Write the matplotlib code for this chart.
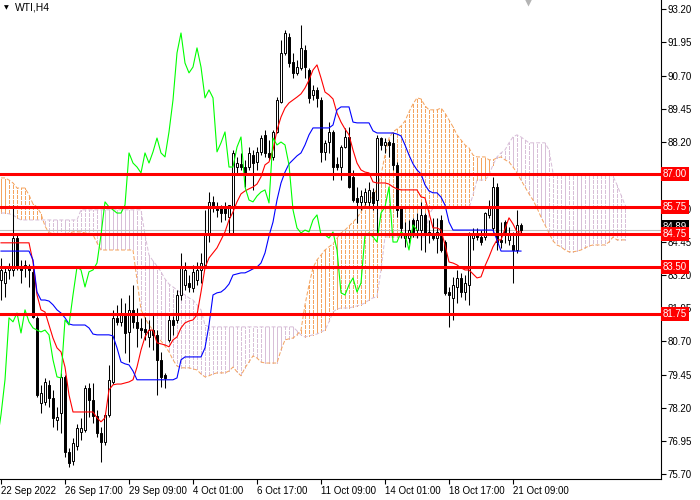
#!/usr/bin/env python3
"""WTI H4 candlesticks with Ichimoku lines, cloud and horizontal levels (MT4 look)."""
import numpy as np
import matplotlib
matplotlib.use("Agg")
import matplotlib.pyplot as plt
import matplotlib.transforms as mtransforms

SYMBOL = "WTI,H4"

# --- price bars (H4) ---
OPEN = [
    83.02, 82.90, 83.39, 83.39, 84.59, 83.50, 83.47, 83.54, 83.32, 81.59,
    78.39, 78.43, 79.07, 78.58, 77.75, 78.02, 79.37, 76.55, 76.21, 76.77,
    77.30, 77.38, 78.96, 78.50, 77.90, 77.26, 76.93, 77.94, 79.18, 81.59,
    81.44, 81.77, 81.06, 81.89, 81.44, 81.21, 81.17, 80.87, 81.13, 80.95,
    80.01, 79.44, 80.76, 81.51, 81.51, 82.45, 82.83, 82.90, 82.71, 83.02,
    83.39, 83.58, 84.78, 85.95, 85.76, 85.72, 85.72, 85.38, 85.76, 87.26,
    87.38, 87.26, 87.26, 87.71, 87.45, 87.83, 88.47, 87.79, 87.64, 88.58,
    89.71, 91.55, 92.15, 91.21, 90.80, 90.98, 91.66, 90.91, 89.97, 90.16,
    89.78, 87.83, 88.20, 88.58, 87.38, 87.26, 88.01, 88.39, 86.89, 86.10,
    85.95, 85.95, 85.95, 86.32, 86.02, 88.35, 88.09, 88.20, 88.17, 87.34,
    85.72, 84.59, 84.59, 85.27, 84.89, 84.89, 85.46, 84.82, 84.78, 84.59,
    85.27, 84.44, 82.56, 82.34, 82.75, 83.09, 82.56, 82.83, 84.59, 84.78,
    84.63, 84.63, 85.46, 84.97, 86.51, 84.52, 85.19, 84.52, 84.33, 84.14,
    85.08,
]
HIGH = [
    83.84, 83.54, 83.65, 85.83, 84.74, 83.77, 83.77, 83.62, 83.54, 81.66,
    79.07, 79.33, 79.26, 78.88, 78.24, 79.52, 79.44, 76.70, 77.08, 77.60,
    77.83, 79.07, 79.14, 79.14, 78.13, 77.49, 78.02, 79.82, 81.89, 82.08,
    82.34, 82.15, 82.45, 82.83, 81.96, 81.59, 81.62, 81.51, 81.77, 81.13,
    80.31, 79.52, 81.77, 81.66, 82.64, 84.03, 83.69, 83.20, 83.58, 83.69,
    84.03, 85.65, 86.32, 86.17, 85.95, 85.83, 85.95, 85.83, 87.90, 87.64,
    87.79, 87.53, 88.01, 87.90, 88.01, 88.47, 88.65, 88.28, 88.65, 89.89,
    92.04, 92.41, 92.30, 91.55, 91.28, 92.60, 91.85, 90.98, 90.34, 90.27,
    89.89, 88.28, 88.95, 88.65, 87.64, 88.09, 88.73, 88.77, 87.15, 86.51,
    86.40, 86.47, 86.70, 86.47, 88.47, 88.39, 88.35, 88.28, 88.54, 87.45,
    85.76, 85.19, 85.27, 85.35, 85.53, 85.95, 85.53, 85.27, 85.35, 85.35,
    85.46, 84.52, 82.75, 83.13, 83.39, 83.28, 83.20, 84.82, 84.97, 84.97,
    84.89, 85.57, 86.02, 86.89, 86.66, 85.19, 85.27, 85.01, 84.82, 85.65,
    85.16,
]
LOW = [
    82.26, 82.38, 83.05, 83.17, 83.39, 82.90, 83.13, 82.75, 81.59, 78.62,
    78.02, 78.32, 78.24, 77.49, 77.38, 77.26, 76.36, 75.99, 76.06, 76.62,
    77.00, 77.30, 77.87, 77.64, 77.11, 76.17, 76.81, 77.87, 79.10, 81.32,
    81.29, 80.27, 79.93, 81.21, 80.50, 80.83, 80.76, 80.50, 80.38, 78.69,
    79.00, 78.96, 80.68, 80.95, 81.40, 82.26, 82.64, 82.56, 82.56, 82.83,
    82.90, 83.47, 84.44, 85.57, 85.38, 85.19, 85.27, 84.78, 84.78, 87.04,
    87.15, 86.51, 87.15, 86.40, 87.15, 87.71, 87.64, 87.53, 87.53, 88.54,
    89.67, 91.47, 91.02, 90.61, 90.72, 90.91, 90.61, 89.67, 89.78, 89.52,
    87.45, 87.53, 87.79, 86.77, 87.15, 86.77, 87.98, 86.47, 85.95, 85.16,
    85.65, 85.83, 85.76, 85.65, 84.78, 87.90, 87.79, 87.64, 87.15, 85.38,
    84.59, 84.26, 84.41, 84.63, 84.59, 84.14, 84.07, 84.41, 84.52, 84.03,
    84.07, 82.45, 81.25, 81.51, 82.15, 82.38, 82.26, 82.08, 84.14, 84.52,
    84.33, 84.52, 85.35, 84.82, 84.14, 84.22, 84.41, 84.33, 82.90, 84.03,
    84.78,
]
CLOSE = [
    83.39, 83.32, 83.47, 84.59, 83.50, 83.39, 83.58, 83.39, 81.62, 78.69,
    78.77, 79.18, 78.58, 77.83, 77.87, 79.37, 76.55, 76.14, 76.89, 77.45,
    77.45, 78.96, 78.50, 77.90, 77.26, 76.93, 77.94, 79.26, 81.59, 81.44,
    81.77, 81.02, 81.89, 81.44, 81.21, 81.13, 81.06, 81.13, 80.95, 80.01,
    79.37, 79.33, 81.51, 81.32, 82.45, 83.50, 83.39, 82.75, 83.32, 83.39,
    83.65, 84.71, 85.95, 85.76, 85.65, 85.53, 85.53, 85.83, 87.79, 87.41,
    87.26, 87.04, 87.79, 87.41, 87.83, 88.35, 87.79, 87.64, 88.58, 89.78,
    91.55, 92.30, 91.17, 90.80, 91.02, 91.74, 91.02, 89.86, 90.16, 89.86,
    87.83, 88.17, 88.58, 87.26, 87.26, 88.01, 88.39, 86.51, 86.02, 85.95,
    86.17, 86.32, 86.40, 85.91, 88.35, 88.09, 88.20, 88.09, 87.34, 85.65,
    84.97, 84.78, 84.89, 84.82, 85.27, 85.46, 84.71, 84.71, 84.59, 84.82,
    84.14, 82.53, 82.45, 82.83, 83.09, 82.56, 82.90, 84.71, 84.78, 84.63,
    84.44, 85.53, 85.76, 86.51, 84.44, 84.44, 84.82, 84.71, 84.14, 85.08,
    84.89,
]

# --- Ichimoku lines ---
TENKAN = (
    [84.41] * 8
    + [83.69, 82.45, 81.89, 81.81, 81.32, 80.83, 80.46, 80.31, 79.74, 78.69]
    + [78.05] * 6
    + [77.83, 77.68, 77.83, 78.88, 79.07, 79.10, 79.10, 79.14, 79.18, 79.26,
       79.74, 80.38, 80.87, 81.13, 81.13, 80.65, 80.61, 80.57, 80.50, 80.76,
       80.87, 81.21, 81.40, 81.47, 81.51, 81.70, 82.56, 83.47, 83.84, 84.03,
       84.22, 84.52, 84.82, 85.27, 85.57, 85.95, 86.25, 86.36, 86.44, 86.51,
       86.62, 86.89, 87.34, 87.45, 87.90, 88.65, 89.14, 89.48, 89.67, 89.78,
       89.89, 90.01, 90.23, 90.53, 90.91, 91.10, 90.61, 90.08, 89.97, 89.82,
       89.29, 88.95, 88.69, 88.47, 87.90, 87.41, 87.15, 87.07, 87.04, 86.70,
       86.66, 86.66, 86.66, 86.62, 86.51, 86.44, 86.40, 86.40, 86.40, 86.40,
       86.40, 86.14, 86.10, 85.53, 84.97, 84.97, 84.89, 84.33, 83.69, 83.65,
       83.58, 83.47, 83.39, 83.39, 83.24, 83.09, 83.13, 83.54, 83.88, 84.26,
       84.52, 84.52, 84.93, 85.35, 85.12, 84.82, 84.82]
)
KIJUN = (
    [84.10] * 8
    + [83.77, 82.56, 82.26, 82.26, 82.22, 82.08, 81.89, 81.77, 81.59, 81.36]
    + [81.32] * 4 + [81.21, 80.98] + [80.95] * 4
    + [80.91, 80.46, 79.93, 79.86, 79.82, 79.59]
    + [79.26] * 10 + [79.33, 80.01] + [80.12] * 5
    + [80.46, 81.32, 82.45, 82.53, 82.56, 82.68, 82.86, 83.20, 83.24,
       83.28, 83.28, 83.35, 83.43, 83.50, 83.65, 84.03, 84.67, 85.19, 86.02,
       86.66, 87.07, 87.38, 87.53, 87.68, 87.79, 88.09, 88.47]
    + [88.73] * 5 + [88.84, 89.41, 89.52, 89.52, 89.52, 88.95]
    + [88.92] * 4 + [88.62] + [88.54] * 5
    + [88.50, 88.43, 88.09, 87.71, 87.38, 87.15, 87.00, 86.59, 86.36, 86.29,
       86.29, 86.13, 85.83, 85.19]
    + [84.89] * 11 + [84.52] + [84.10] * 6
)
SPAN_A = [
    86.85, 86.85, 86.77, 86.66, 86.47, 86.47, 86.47, 86.21, 85.87, 85.76,
    85.50, 85.04, 84.78, 84.78, 84.74, 84.71, 84.74, 84.78, 84.82, 84.82,
    84.82, 84.78, 84.78, 84.71, 84.41, 84.14, 84.14, 84.14, 84.14, 84.14,
    84.14, 84.14, 84.14, 84.14, 83.02, 81.89, 81.59, 81.32, 81.13, 80.91,
    80.72, 80.53, 80.31, 80.01, 79.78, 79.71, 79.71, 79.71, 79.67, 79.63,
    79.48, 79.37, 79.41, 79.48, 79.52, 79.52, 79.52, 79.59, 79.74, 79.56,
    79.41, 79.71, 79.93, 80.16, 80.08, 79.93, 79.89, 79.89, 79.89, 79.89,
    80.38, 80.76, 80.80, 80.83, 80.95, 81.13, 82.08, 82.83, 83.47, 83.77,
    83.95, 84.14, 84.26, 84.37, 84.59, 84.78, 84.89, 85.04, 85.19, 85.35,
    85.57, 85.83, 85.95, 86.17, 86.44, 86.96, 87.71, 88.35, 88.58, 88.69,
    88.80, 88.99, 89.33, 89.63, 89.86, 89.82, 89.56, 89.41, 89.41, 89.41,
    89.48, 89.29, 89.03, 88.77, 88.47, 88.28, 88.09, 87.98, 87.71, 87.64,
    87.64, 87.64, 87.53, 87.53, 87.60, 87.64, 87.53, 87.45, 87.26, 87.04,
    86.77, 86.51, 86.25, 86.02, 85.72, 85.38, 85.08, 84.78, 84.48, 84.33,
    84.26, 84.14, 84.07, 84.07, 84.10, 84.14, 84.22, 84.29, 84.33, 84.33,
    84.33, 84.33, 84.44, 84.63, 84.52, 84.52, 84.52,
]
SPAN_B = (
    [85.53, 85.53, 85.50, 85.46, 85.35] + [85.27] * 15 + [85.65] * 16
    + [84.71, 83.95, 83.73, 83.54, 83.32, 83.05, 82.86, 82.75, 82.64, 82.53,
       82.45, 82.34, 82.26, 82.08, 81.89, 81.32]
    + [81.25] * 22
    + [81.10, 80.95, 80.87, 80.91, 80.95, 80.98, 81.06, 81.13, 81.44, 81.81,
       81.92, 81.96, 81.96, 81.96, 82.00, 82.04, 82.08, 82.15, 82.26, 82.34,
       82.38, 83.39]
    + [84.63] * 11 + [85.46] + [85.72] * 10
    + [86.21, 86.77, 86.77, 86.77, 86.96, 87.34, 87.64, 87.79, 87.90, 88.17,
       88.39, 88.47, 88.39, 88.28]
    + [88.17] * 5 + [87.90, 87.04] + [86.96] * 14
    + [86.92, 86.59, 86.21, 85.83]
)
CHIKOU_SHIFT = 26

LEVELS = [87.00, 85.75, 84.75, 83.50, 81.75]

DATE_TICKS = [0, 16, 32, 48, 64, 80, 96, 112, 128]
DATE_LABELS = ["22 Sep 2022", "26 Sep 17:00", "29 Sep 09:00", "4 Oct 01:00",
               "6 Oct 17:00", "11 Oct 09:00", "14 Oct 01:00", "18 Oct 17:00",
               "21 Oct 09:00"]
PRICE_TICKS = [75.70, 76.95, 78.20, 79.45, 80.70, 81.95, 83.20, 84.45,
               85.70, 86.95, 88.20, 89.45, 90.70, 91.95, 93.20]
HIDDEN_TICKS = [86.95]   # fully covered by the 87.00 level label

FONT = 7.0
HATCH_LW = 0.72
HATCH_DASH = (4, 2)
plt.rcParams['font.family'] = ['Liberation Sans', 'DejaVu Sans']


def aligned_dashes(ax, starts):
    """Dash styles whose phase follows absolute height, so the dots line up
    in rows across bars like MT4's dotted histogram."""
    ypx = ax.transData.transform(
        np.column_stack([np.zeros_like(starts), starts]))[:, 1]
    units = ypx * 72 / ax.figure.dpi / HATCH_LW
    period = sum(HATCH_DASH)
    return [(u % period, HATCH_DASH) for u in units]


def main() -> None:
    o, h, l, c = (np.asarray(a) for a in (OPEN, HIGH, LOW, CLOSE))
    n = len(c)
    assert len(o) == len(h) == len(l) == n == len(TENKAN) == len(KIJUN)
    assert len(SPAN_A) == len(SPAN_B)
    idx = np.arange(n)

    fig = plt.figure(figsize=(7, 5), dpi=100)
    ax = fig.add_axes([0.0, 21 / 500, 661 / 700, 479 / 500])
    ax.set_xlim(-0.25, 165.0)
    ax.set_ylim(75.53, 93.54)

    # cloud: one dotted vertical per bar, coloured by the upper span
    sa, sb = np.asarray(SPAN_A), np.asarray(SPAN_B)
    cidx = np.arange(len(sa))
    up = sa >= sb
    lo, hi = np.minimum(sa, sb), np.maximum(sa, sb)
    for mask, col in ((up, '#F4A460'), (~up, '#D8BFD8')):
        ax.vlines(cidx[mask], lo[mask], hi[mask], colors=col,
                  linewidth=HATCH_LW, linestyles=aligned_dashes(ax, lo[mask]),
                  antialiased=False, zorder=1)
    ax.plot(cidx, sa, color='#F4A460', lw=HATCH_LW, ls=(0, HATCH_DASH),
            zorder=1.1)
    ax.plot(cidx, sb, color='#D8BFD8', lw=HATCH_LW, ls=(0, HATCH_DASH),
            zorder=1.1)

    # bid line
    ax.axhline(c[-1], color='#C0C0C0', lw=0.8, zorder=1.2)

    # candles
    ax.vlines(idx, l, h, colors='black', linewidth=0.75, zorder=2)
    bull = c >= o
    body = np.maximum(np.abs(c - o), 0.03)
    ax.bar(idx, body, bottom=np.minimum(o, c), width=0.62,
           color=np.where(bull, 'white', 'black'), edgecolor='black',
           linewidth=0.7, zorder=2.1)

    # Ichimoku lines
    ax.plot(idx, TENKAN, color='#FF0000', lw=0.8, zorder=3)
    ax.plot(idx, KIJUN, color='#0000FF', lw=0.8, zorder=3)
    ax.plot(idx - CHIKOU_SHIFT, c, color='#00FF00', lw=0.8, zorder=3)

    # horizontal levels
    for lev in LEVELS:
        ax.axhline(lev, color='#FF0000', lw=2.2, zorder=4)

    # axes styling (MT4-like)
    for side in ('left', 'top'):
        ax.spines[side].set_visible(False)
    for side in ('right', 'bottom'):
        ax.spines[side].set_linewidth(0.8)
        ax.spines[side].set_color('black')
    ax.yaxis.tick_right()
    ax.set_yticks(PRICE_TICKS)
    ax.set_yticklabels(["" if p in HIDDEN_TICKS else f"{p:.2f}"
                        for p in PRICE_TICKS])
    ax.set_xticks(DATE_TICKS)
    ax.set_xticklabels(DATE_LABELS)
    ax.tick_params(axis='y', length=3.5, width=0.8, pad=1.5, labelsize=FONT)
    ax.tick_params(axis='x', length=3.5, width=0.8, pad=1.5, labelsize=FONT)
    plt.setp(ax.get_xticklabels(), ha='left')

    # price labels on the right scale
    yt = mtransforms.blended_transform_factory(ax.transAxes, ax.transData)
    ax.text(1.003, c[-1] + 0.12, f"{c[-1]:.2f}", transform=yt, ha='left',
            va='center', color='white', fontsize=FONT, zorder=9, clip_on=False,
            bbox=dict(boxstyle='square,pad=0.2', fc='black', ec='none'))
    for lev in LEVELS:
        ax.text(1.003, lev, f"{lev:.2f}", transform=yt, ha='left',
                va='center', color='white', fontsize=FONT, zorder=10,
                clip_on=False,
                bbox=dict(boxstyle='square,pad=0.2', fc='#FF0000', ec='none'))

    # header and chart-shift marker
    ax.text(0.006, 0.988, "\u25BC", transform=ax.transAxes, ha='left',
            va='top', fontsize=4.5, color='black', family='DejaVu Sans')
    ax.text(0.022, 0.994, SYMBOL, transform=ax.transAxes, ha='left',
            va='top', fontsize=7.5, color='black')
    ax.plot([n + 0.75], [ax.get_ylim()[1] - 0.05], marker='v', ms=7,
            color='#B4B4B4', mec='none', clip_on=False, zorder=5)

    fig.savefig('out.png', dpi=100)
    plt.close(fig)


if __name__ == '__main__':
    main()
